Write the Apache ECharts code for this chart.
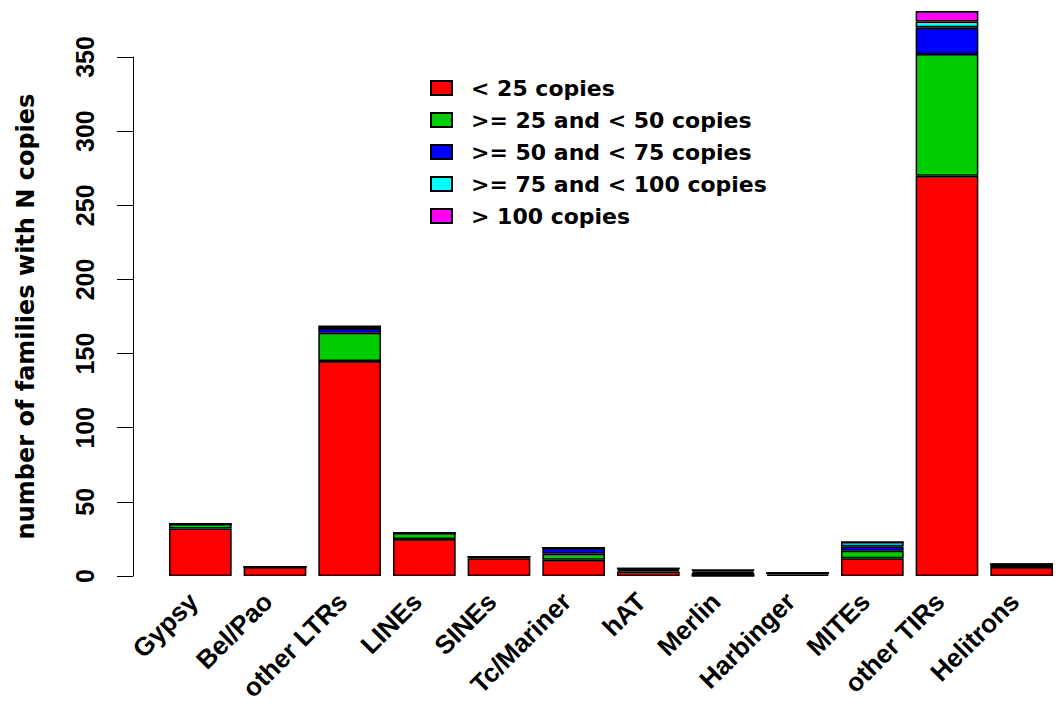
<!DOCTYPE html>
<html>
<head>
<meta charset="utf-8">
<script src="https://cdn.jsdelivr.net/npm/echarts@6/dist/echarts.min.js"></script>
<style>
html,body{margin:0;padding:0;background:#fff;}
#chart{width:1059px;height:708px;}
</style>
</head>
<body>
<div id="chart"></div>
<script>
const categories = ['Gypsy','Bel/Pao','other LTRs','LINEs','SINEs','Tc/Mariner','hAT','Merlin','Harbinger','MITEs','other TIRs','Helitrons'];
const seriesNames = ['< 25 copies','>= 25 and < 50 copies','>= 50 and < 75 copies','>= 75 and < 100 copies','> 100 copies'];
const lt25    = [32, 6, 145, 25, 12, 11, 3, 0, 1, 12, 270, 6];
const c25to50 = [3, 0, 19, 4, 1, 4, 1, 2, 1, 5, 82, 2];
const c50to75 = [0, 0, 3, 0, 0, 4, 1, 1, 0, 3, 18, 0];
const c75to100= [0, 0, 0, 0, 0, 0, 0, 1, 0, 3, 4, 0];
const gt100   = [0, 0, 2, 0, 0, 0, 0, 0, 0, 0, 7, 0];
const yTicks = [0, 50, 100, 150, 200, 250, 300, 350];
const colors = ['#FF0000','#00CD00','#0000FF','#00FFFF','#FF00FF'];

const values = [lt25, c25to50, c50to75, c75to100, gt100];
const chart = echarts.init(document.getElementById('chart'), null, {renderer:'svg'});
const font = 'Liberation Sans';
chart.setOption({
  animation: false,
  backgroundColor: '#ffffff',
  grid: {left: 163, right: -10, top: 57, bottom: 132},
  legend: {
    orient: 'vertical',
    left: 425,
    top: 72,
    itemWidth: 21,
    itemHeight: 14,
    itemGap: 10,
    icon: 'rect',
    data: seriesNames,
    textStyle: {fontFamily: 'DejaVu Sans', fontWeight: 'bold', fontSize: 22, color: '#000', lineHeight: 22, padding: [0,0,0,14]}
  },
  xAxis: {
    type: 'category',
    data: categories,
    axisLine: {show: false},
    axisTick: {show: false},
    axisLabel: {rotate: 45, margin: 14, interval: 0, color: '#000', fontFamily: font, fontWeight: 'bold', fontSize: 26, padding: [0, 10, 16, 0]}
  },
  yAxis: {
    type: 'value',
    min: yTicks[0],
    max: yTicks[yTicks.length-1],
    interval: 50,
    offset: 30,
    splitLine: {show: false},
    axisLine: {show: true, lineStyle: {color: '#000', width: 1}},
    axisTick: {show: true, length: 16, lineStyle: {color: '#000', width: 1}},
    axisLabel: {rotate: 90, margin: 36, color: '#000', fontFamily: font, fontWeight: 'bold', fontSize: 25},
    name: 'number of families with N copies',
    nameLocation: 'middle',
    nameGap: 95,
    nameTextStyle: {color: '#000', fontFamily: 'DejaVu Sans', fontWeight: 'bold', fontSize: 24}
  },
  series: seriesNames.map((n, i) => ({
    name: n,
    type: 'bar',
    stack: 'total',
    clip: false,
    barCategoryGap: '16%',
    data: values[i],
    itemStyle: {color: colors[i], borderColor: '#000', borderWidth: 1.5}
  }))
});
</script>
</body>
</html>
